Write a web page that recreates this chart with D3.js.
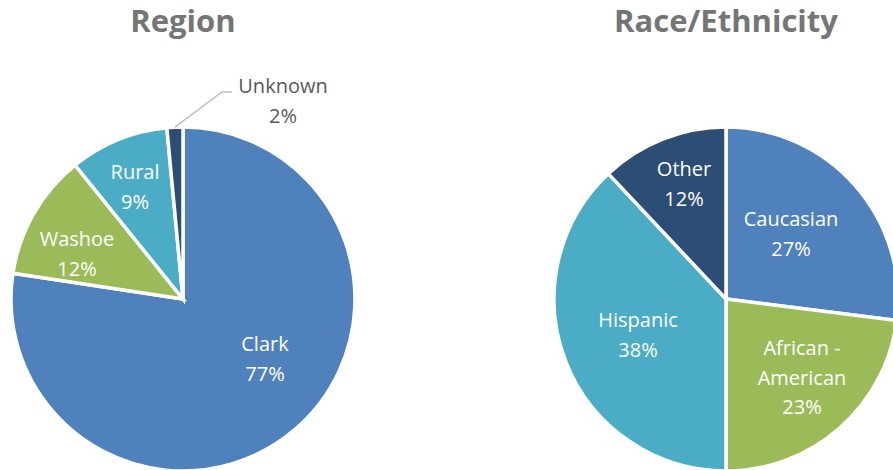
<!DOCTYPE html>
<html>
<head>
<meta charset="utf-8">
<script src="https://cdn.jsdelivr.net/npm/d3@7"></script>
<style>
  html, body { margin: 0; padding: 0; background: #fff; }
  svg { display: block; font-family: "Open Sans", sans-serif; }
</style>
</head>
<body>
<div id="chart"></div>
<script>
// data
const regionCats = ["Clark", "Washoe", "Rural", "Unknown"];
const regionVals = [77.4, 11.8, 9.3, 1.5];

const raceCats = ["Caucasian", "African -\nAmerican", "Hispanic", "Other"];
const raceVals = [27, 23, 38, 12];

const width = 893;
const height = 470;
const radius = 172;

const colorsRegion = ["#4F81BD", "#9BBB59", "#4BACC6", "#2C4D75"];
const colorsRace = ["#4F81BD", "#9BBB59", "#4BACC6", "#2C4D75"];

// label anchors (first baseline) relative to pie centre
const regionLabelAt = {
    "Clark": [82, 52],
    "Washoe": [-106, -53],
    "Rural": [-48, -120],
    "Unknown": [100, -206]
};
const raceLabelAt = {
    "Caucasian": [65, -73],
    "African -\nAmerican": [76, 56],
    "Hispanic": [-88, 28],
    "Other": [-42, -123]
};

const svg = d3.select("#chart")
    .append("svg")
    .attr("width", width)
    .attr("height", height);

const pie = d3.pie().sort(null).value(d => d.v);
const arc = d3.arc().innerRadius(0).outerRadius(radius);

function drawPie(cx, cy, title, cats, vals, colors, labelAt, outside) {
    const data = cats.map((c, i) => ({ c: c, v: vals[i] }));
    const total = d3.sum(vals);

    svg.append("text")
        .attr("x", cx)
        .attr("y", 32)
        .attr("text-anchor", "middle")
        .attr("font-size", "31px")
        .attr("font-weight", "bold")
        .attr("fill", "#757575")
        .text(title);

    const g = svg.append("g").attr("transform", "translate(" + cx + "," + cy + ")");

    const arcs = pie(data);

    g.selectAll("path")
        .data(arcs)
        .enter().append("path")
        .attr("d", arc)
        .attr("fill", (d, i) => colors[i])
        .attr("stroke", "#fff")
        .attr("stroke-width", 3.5)
        .attr("stroke-linejoin", "miter");

    arcs.forEach(function (d) {
        const pos = labelAt[d.data.c];
        const isOut = outside.indexOf(d.data.c) >= 0;
        const lines = d.data.c.split("\n");
        lines.push(Math.round(d.data.v / total * 100) + "%");

        if (isOut) {
            // leader line from the slice edge to the label
            const mid = (d.startAngle + d.endAngle) / 2;
            const x0 = Math.sin(mid) * radius;
            const y0 = -Math.cos(mid) * radius;
            const yL = pos[1] - 1;
            const xEnd = pos[0] - 51;
            g.append("polyline")
                .attr("points", [[x0, y0], [xEnd - 10, yL], [xEnd, yL]].map(p => p.join(",")).join(" "))
                .attr("fill", "none")
                .attr("stroke", "#BFBFBF")
                .attr("stroke-width", 1.5);
        }

        const t = g.append("text")
            .attr("text-anchor", "middle")
            .attr("font-size", "20px")
            .attr("fill", isOut ? "#595959" : "#fff");
        lines.forEach(function (s, j) {
            t.append("tspan")
                .attr("x", pos[0])
                .attr("y", pos[1] + j * 29.5)
                .text(s);
        });
    });
}

drawPie(183, 299, "Region", regionCats, regionVals, colorsRegion, regionLabelAt, ["Unknown"]);
drawPie(726, 299, "Race/Ethnicity", raceCats, raceVals, colorsRace, raceLabelAt, []);
</script>
</body>
</html>
